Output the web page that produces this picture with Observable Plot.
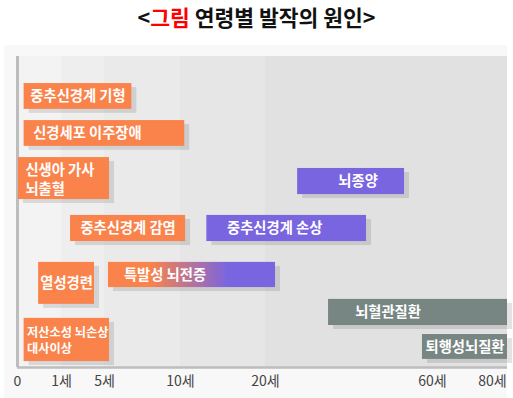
<!DOCTYPE html>
<html>
<head>
<meta charset="utf-8">
<script src="https://cdn.jsdelivr.net/npm/d3@7"></script>
<script src="https://cdn.jsdelivr.net/npm/@observablehq/plot@0.6"></script>
<style>
  body { margin: 0; background: #fff; font-family: "Noto Sans CJK KR", sans-serif; }
  #title { height: 45px; width: 513px; text-align: center; font-weight: bold; font-size: 21.5px; line-height: 34px; color: #111; }
  #title .red { color: #ff0000; }
  #chart { margin-left: 4px; width: 503px; }
  #chart svg { background: #f8f8f8; display: block; }
</style>
</head>
<body>
<div id="title">&lt;<span class="red">그림</span> 연령별 발작의 원인&gt;</div>
<div id="chart"></div>
<script>
// ---- data ----
const causes = ["중추신경계 기형", "신경세포 이주장애", "신생아 가사\n뇌출혈", "중추신경계 감염", "중추신경계 손상", "열성경련", "특발성 뇌전증", "저산소성 뇌손상\n대사이상", "뇌종양", "뇌혈관질환", "퇴행성뇌질환"];
const ageFrom = [0.15, 0.15, 0.02, 1.84, 13.1, 0.48, 5.26, 0.15, 27.7, 35.1, 57.6];
const ageTo = [6.8, 10.5, 5.33, 10.6, 44.2, 4.07, 22.4, 5.33, 53.3, 85, 85];
const groups = ["소아", "소아", "소아", "소아", "성인", "소아", "소아~성인", "소아", "성인", "노년", "노년"];
const rowTop = [8.7, 20.6, 32.5, 51.1, 51.1, 66.2, 66.2, 84.2, 36.0, 78.1, 89.4];
const rowBottom = [17.0, 28.9, 46.0, 59.5, 59.5, 79.7, 74.3, 98.1, 44.4, 86.5, 97.4];
const tickAges = [0, 1, 5, 10, 20, 60, 80];
const bandEdges = [0, 1, 5, 10, 20, 85];

// ---- layout ----
const W = 503, H = 353;
const xDomain = [0, 1, 5, 10, 20, 60, 80, 85];
const xRange = [13, 57, 100, 176, 261, 428, 488, 503];
const xs = d3.scaleLinear(xDomain, xRange);
const bandFills = ["#f3f3f3", "#efeeef", "#ebeaeb", "#e6e6e6", "#e1e1e1"];
const labelShift = {"신경세포 이주장애": -17, "중추신경계 손상": -12, "특발성 뇌전증": -27, "뇌혈관질환": -30, "뇌종양": 7};

const bars = causes.map((c, i) => ({
  cause: c, from: ageFrom[i], to: ageTo[i], group: groups[i], top: rowTop[i], bottom: rowBottom[i]
}));
const bands = bandEdges.slice(0, -1).map((a, i) => ({a, b: bandEdges[i + 1], k: i}));
const single = bars.filter(d => !d.cause.includes("\n"));
const multi = bars.filter(d => d.cause.includes("\n"));

const plot = Plot.plot({
  width: W, height: H,
  marginLeft: 13, marginRight: 0, marginTop: 11, marginBottom: 31,
  style: {fontFamily: "Noto Sans CJK KR, sans-serif", background: "#f8f8f8", overflow: "visible"},
  x: {type: "linear", domain: xDomain, range: xRange, ticks: tickAges, tickSize: 0, tickPadding: 9,
      tickFormat: d => d === 0 ? "0" : d + "세", label: null},
  y: {domain: [0, 100], reverse: true, axis: null},
  color: {domain: ["소아", "성인", "노년", "소아~성인"], range: ["#fa834b", "#7965e0", "#788683", "url(#grad)"]},
  marks: [
    Plot.rect(bands, {x1: "a", x2: "b", y1: 0, y2: 100, fill: d => bandFills[d.k]}),
    Plot.ruleX([0], {y1: 0, y2: 100, stroke: "#bdbdbd", strokeWidth: 3}),
    Plot.ruleY([100], {stroke: "#bdbdbd", strokeWidth: 2.5}),
    Plot.rect(bars, {x1: "from", x2: "to", y1: "top", y2: "bottom", fill: "#000", fillOpacity: 0.11, dx: 5, dy: 4}),
    Plot.rect(bars, {x1: "from", x2: "to", y1: "top", y2: "bottom", fill: "group"}),
    Plot.text(single, {
      x: d => xs.invert((xs(d.from) + xs(d.to)) / 2), y: d => (d.top + d.bottom) / 2,
      text: "cause", fill: "white", fontSize: 14.3, fontWeight: "bold",
      render: (index, scales, values, dims, ctx, next) => {
        const g = next(index, scales, values, dims, ctx);
        d3.select(g).selectAll("text").each(function(i) {
          const s = labelShift[single[i]?.cause] || 0;
          if (s) d3.select(this).attr("dx", s);
        });
        return g;
      }
    }),
    Plot.text(multi.filter(d => d.cause.startsWith("신생아")), {
      x: "from", y: d => (d.top + d.bottom) / 2, text: "cause", textAnchor: "start",
      dx: 7, fill: "white", fontSize: 14.3, fontWeight: "bold", lineHeight: 1.34
    }),
    Plot.text(multi.filter(d => d.cause.startsWith("저산소성")), {
      x: "from", y: d => (d.top + d.bottom) / 2, text: "cause", textAnchor: "start",
      dx: 3, fill: "white", fontSize: 12.2, fontWeight: "bold", lineHeight: 1.34
    }),
    Plot.axisX({ticks: tickAges, tickSize: 0, tickPadding: 9, fontSize: 14, fill: "#444",
      tickFormat: d => d === 0 ? "0" : d + "세", label: null})
  ]
});

const ns = "http://www.w3.org/2000/svg";
const defs = document.createElementNS(ns, "defs");
const lg = document.createElementNS(ns, "linearGradient");
lg.setAttribute("id", "grad");
[["25%", "#fa834b"], ["72%", "#7965e0"]].forEach(([o, c]) => {
  const s = document.createElementNS(ns, "stop");
  s.setAttribute("offset", o); s.setAttribute("stop-color", c); lg.appendChild(s);
});
defs.appendChild(lg);
plot.insertBefore(defs, plot.firstChild);
document.getElementById("chart").appendChild(plot);
</script>
</body>
</html>
